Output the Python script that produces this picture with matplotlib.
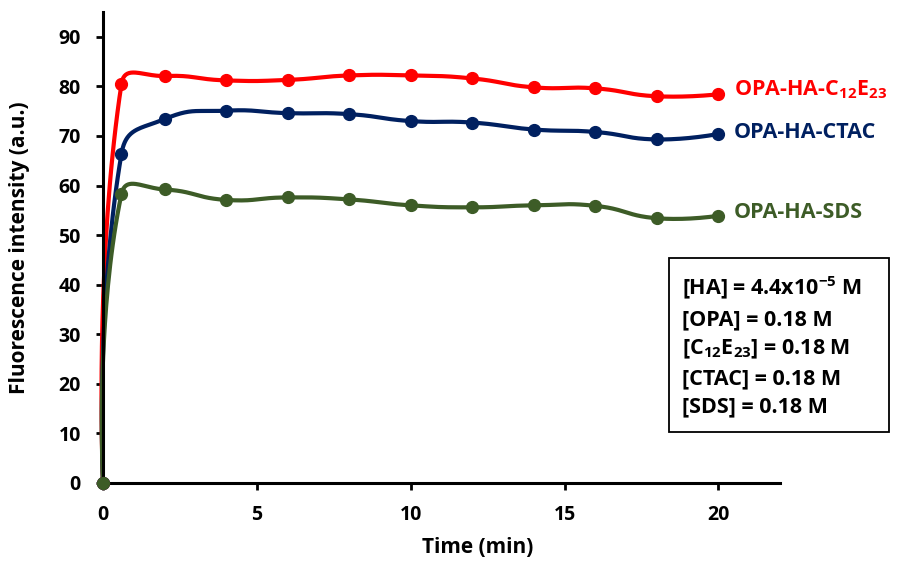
import numpy as np
import matplotlib
matplotlib.use("Agg")
import matplotlib.pyplot as plt
from matplotlib.patches import Rectangle

plt.rcParams['font.family'] = ['Open Sans', 'DejaVu Sans']
plt.rcParams['font.weight'] = 'bold'
plt.rcParams['mathtext.fontset'] = 'custom'
plt.rcParams['mathtext.rm'] = 'Open Sans:bold'
plt.rcParams['mathtext.default'] = 'rm'

time_min = [0, 0.6, 2, 4, 6, 8, 10, 12, 14, 16, 18, 20]
c12e23 = [0, 80.5, 82.1, 81.2, 81.3, 82.2, 82.2, 81.6, 79.8, 79.6, 78.0, 78.4]
ctac = [0, 66.4, 73.4, 75.1, 74.6, 74.4, 73.0, 72.7, 71.3, 70.8, 69.3, 70.4]
sds = [0, 58.3, 59.2, 57.1, 57.6, 57.2, 56.0, 55.6, 56.0, 55.9, 53.4, 53.9]

names = ['OPA-HA-C$_{12}$E$_{23}$', 'OPA-HA-CTAC', 'OPA-HA-SDS']
colors = ['#FF0000', '#002060', '#3D5C27']
label_y = [79.3, 70.6, 54.5]

XS, YS = 30.85, 4.956  # px per unit, used for the smoothing only


def smooth(x, y, n=40, k=0.5):
    # excel style smoothed line, control points scaled by segment length
    p = np.column_stack([np.asarray(x, float) * XS, np.asarray(y, float) * YS])
    out = []
    t = np.linspace(0, 1, n)[:, None]
    for i in range(len(p) - 1):
        a, b = p[i], p[i + 1]
        prev = p[i - 1] if i > 0 else a
        nxt = p[i + 2] if i + 2 < len(p) else b
        d0 = np.linalg.norm(a - prev)
        d1 = np.linalg.norm(b - a)
        d2 = np.linalg.norm(nxt - b)
        c1 = a + (b - prev) * (d1 / (d0 + d1)) * k if d0 > 0 else a
        c2 = b - (nxt - a) * (d1 / (d1 + d2)) * k if d2 > 0 else b
        seg = (1 - t) ** 3 * a + 3 * (1 - t) ** 2 * t * c1 + 3 * (1 - t) * t ** 2 * c2 + t ** 3 * b
        out.append(seg)
    out = np.vstack(out)
    return out[:, 0] / XS, out[:, 1] / YS


fig = plt.figure(figsize=(9.01, 5.61), dpi=100)
ax = fig.add_axes([103 / 901, 1 - 483 / 561, (780 - 103) / 901, (483 - 12) / 561])

for ys, c, name, ly in zip([c12e23, ctac, sds], colors, names, label_y):
    sx, sy = smooth(time_min, ys)
    ax.plot(sx, sy, color=c, lw=3, solid_capstyle='round', clip_on=False)
    ax.plot(time_min, ys, 'o', color=c, ms=8.5, clip_on=False, zorder=3)
    ax.text(20.5, ly, name, color=c, fontsize=15.5, fontweight='bold',
            va='center', ha='left', clip_on=False)

ax.set_xlim(0, 22)
ax.set_ylim(0, 95)
ax.set_xticks([0, 5, 10, 15, 20])
ax.set_yticks(range(0, 91, 10))
ax.spines['top'].set_visible(False)
ax.spines['right'].set_visible(False)
for s in ['left', 'bottom']:
    ax.spines[s].set_linewidth(2.2)
ax.tick_params(width=2, length=5, labelsize=14, pad=11)
for lab in ax.get_xticklabels() + ax.get_yticklabels():
    lab.set_fontweight('bold')
ax.set_xlabel('Time (min)', fontsize=15, fontweight='bold')
ax.set_ylabel('Fluorescence intensity (a.u.)', fontsize=15, fontweight='bold')
ax.xaxis.set_label_coords(0.554, -0.115)
ax.yaxis.set_label_coords(-0.108, 0.5)

fig.patches.append(Rectangle((669 / 901, 1 - 432 / 561), 220 / 901, 174 / 561,
                             transform=fig.transFigure, fc='white', ec='black', lw=1.3))
box_text = ('[HA] = 4.4x10$^{-5}$ M\n[OPA] = 0.18 M\n[C$_{12}$E$_{23}$] = 0.18 M\n'
            '[CTAC] = 0.18 M\n[SDS] = 0.18 M')
fig.text(682 / 901, 1 - 346 / 561, box_text, fontsize=15.5, fontweight='bold',
         va='center', ha='left', linespacing=1.45)

fig.savefig('out.png', dpi=100)
